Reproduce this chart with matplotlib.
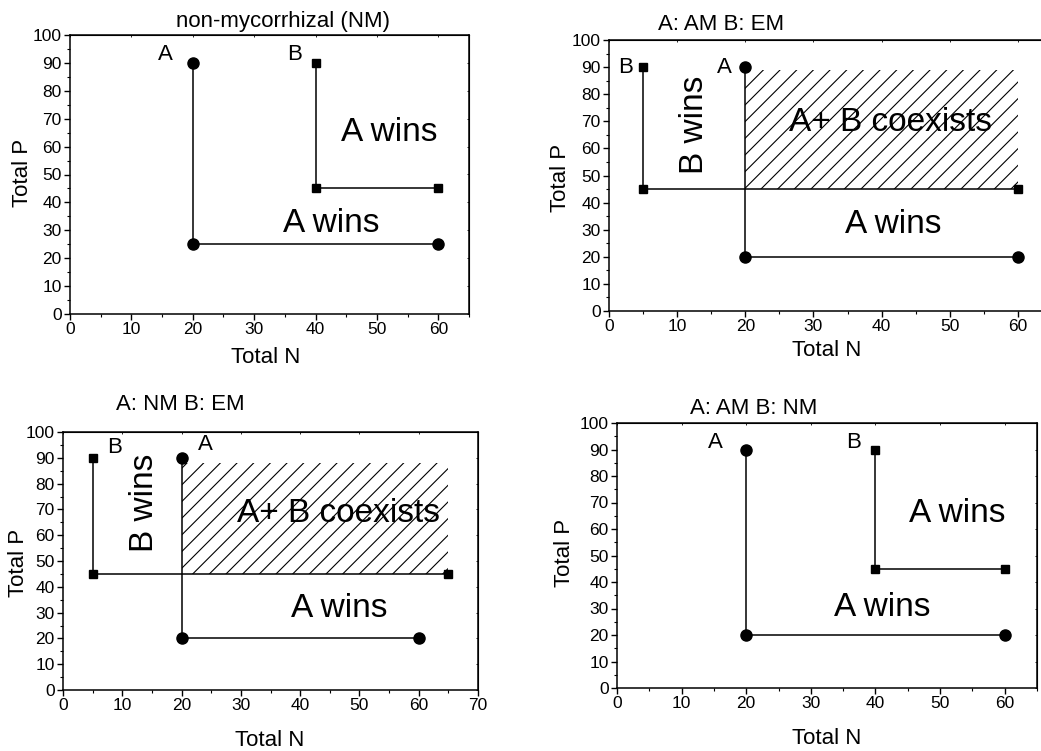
import matplotlib.pyplot as plt
from matplotlib.ticker import MultipleLocator

plt.rcParams['font.family'] = ['Liberation Sans', 'DejaVu Sans']
plt.rcParams['hatch.linewidth'] = 0.8

W, H = 1041, 751

# panel titles
titles = ["non-mycorrhizal (NM)", "A: AM B: EM", "A: NM B: EM", "A: AM B: NM"]

# species A (circles) and B (squares) resource lines, Total N vs Total P
a_n = [[20, 20, 60], [20, 20, 60], [20, 20, 60], [20, 20, 60]]
a_p = [[90, 25, 25], [90, 20, 20], [90, 20, 20], [90, 20, 20]]
b_n = [[40, 40, 60], [5, 5, 60], [5, 5, 65], [40, 40, 60]]
b_p = [[90, 45, 45], [90, 45, 45], [90, 45, 45], [90, 45, 45]]

# coexistence zones (N from, N to, P from, P to), None where there is none
coexist = [None, (20, 60, 45, 89), (20, 65, 45, 88), None]

xmax = [65, 65, 70, 65]

# text annotations: (x, y, text, size, rotation)
notes = [
    [(15.6, 93, "A", 16, 0), (36.6, 93, "B", 16, 0),
     (52, 65, "A wins", 24, 0), (42.5, 32.6, "A wins", 24, 0)],
    [(2.4, 90, "B", 16, 0), (16.9, 90, "A", 16, 0),
     (12.5, 68.6, "B wins", 24, 90), (41.3, 69.7, "A+ B coexists", 24, 0),
     (41.7, 32, "A wins", 24, 0)],
    [(8.7, 93.8, "B", 16, 0), (24.1, 95, "A", 16, 0),
     (13.8, 72.5, "B wins", 24, 90), (46.4, 68.6, "A+ B coexists", 24, 0),
     (46.6, 31.4, "A wins", 24, 0)],
    [(15.3, 92.5, "A", 16, 0), (36.6, 92.5, "B", 16, 0),
     (52.6, 66, "A wins", 24, 0), (41.1, 30.2, "A wins", 24, 0)],
]

# layout in pixels: axes box (left, top, right, bottom), title, xlabel, ylabel centres
boxes = [(70, 35, 469, 314), (609, 40, 1052, 311), (63, 432, 478, 690), (617, 423, 1037, 688)]
title_xy = [(283, 21), (721, 24), (180, 405), (754, 409)]
xlab_xy = [(266, 358), (827, 350), (270, 740), (827, 738)]
ylab_xy = [(23, 173), (560, 178), (18, 563), (565, 553)]


def fx(x):
    return x / W


def fy(y):
    return 1 - y / H


fig = plt.figure(figsize=(W / 100, H / 100), dpi=100)

for i in range(4):
    l, t, r, b = boxes[i]
    ax = fig.add_axes([fx(l), fy(b), (r - l) / W, (b - t) / H])

    if coexist[i] is not None:
        x0, x1, y0, y1 = coexist[i]
        ax.fill_between([x0, x1], y0, y1, facecolor='none', edgecolor='black',
                        hatch='//', linewidth=0)

    ax.plot(a_n[i], a_p[i], color='black', lw=1.1, marker='o', ms=8, zorder=3)
    ax.plot(b_n[i], b_p[i], color='black', lw=1.1, marker='s', ms=6, zorder=3)

    for x, y, s, size, rot in notes[i]:
        ax.text(x, y, s, fontsize=size, rotation=rot, ha='center', va='center')

    ax.set_xlim(0, xmax[i])
    ax.set_ylim(0, 100)
    ax.xaxis.set_major_locator(MultipleLocator(10))
    ax.xaxis.set_minor_locator(MultipleLocator(5))
    ax.yaxis.set_major_locator(MultipleLocator(10))
    ax.yaxis.set_minor_locator(MultipleLocator(5))
    ax.tick_params(which='major', direction='out', length=4, width=1, labelsize=12.5, pad=2)
    ax.tick_params(which='minor', direction='out', length=2.5, width=0.8)
    for sp in ax.spines.values():
        sp.set_linewidth(1.1)

    # small inward ticks on top and right
    top = ax.secondary_xaxis('top')
    top.xaxis.set_major_locator(MultipleLocator(10))
    top.tick_params(direction='in', length=1.5, width=0.6, labeltop=False)
    right = ax.secondary_yaxis('right')
    right.yaxis.set_major_locator(MultipleLocator(10))
    right.tick_params(direction='in', length=1.5, width=0.6, labelright=False)

    fig.text(fx(title_xy[i][0]), fy(title_xy[i][1]), titles[i], fontsize=16,
             ha='center', va='center')
    fig.text(fx(xlab_xy[i][0]), fy(xlab_xy[i][1]), "Total N", fontsize=16,
             ha='center', va='center')
    fig.text(fx(ylab_xy[i][0]), fy(ylab_xy[i][1]), "Total P", fontsize=16,
             rotation=90, ha='center', va='center')

fig.savefig("out.png", dpi=100)
